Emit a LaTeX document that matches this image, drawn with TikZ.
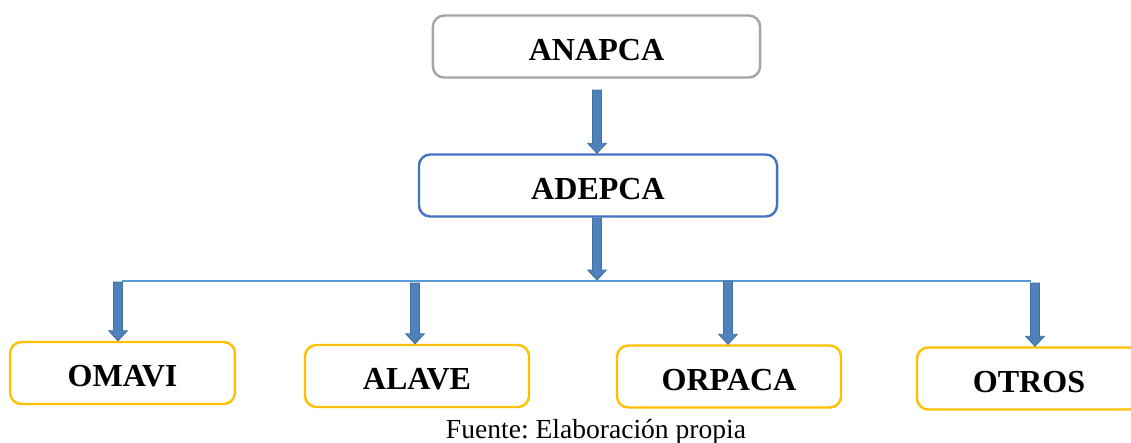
\documentclass[tikz,border=0pt]{standalone}
\usepackage{fontspec}
\setmainfont{Liberation Serif}
\usepackage{tikz}
\usetikzlibrary{calc}
\frenchspacing

\definecolor{boxgray}{RGB}{165,165,165}
\definecolor{boxblue}{RGB}{68,114,196}
\definecolor{boxgold}{RGB}{255,192,0}
\definecolor{barblue}{RGB}{91,155,213}
\definecolor{arrowfill}{RGB}{79,129,189}
\definecolor{arrowedge}{RGB}{65,113,156}

\tikzset{
  orgbox/.style={rounded corners=8pt, line width=1.7pt, fill=white,
    font=\fontsize{22.8}{27}\selectfont\bfseries,
    text height=0.675cm, text depth=0pt,
    minimum height=1.55cm, inner sep=0pt},
  arrowblock/.style={fill=arrowfill, draw=arrowedge, line width=0.6pt},
  barline/.style={draw=barblue, line width=1pt}
}

% vertical block arrow: starts at #1, tip at the height of #2
\newcommand{\blockarrow}[2]{%
  \draw[arrowblock] let \p1=(#1), \p2=(#2) in
    (\x1-3.2pt,\y1) -- (\x1+3.2pt,\y1) -- (\x1+3.2pt,\y2+7.1pt)
    -- (\x1+6.6pt,\y2+7.1pt) -- (\x1,\y2) -- (\x1-6.6pt,\y2+7.1pt)
    -- (\x1-3.2pt,\y2+7.1pt) -- cycle;}

\begin{document}
\begin{tikzpicture}[x=0.025cm, y=-0.025cm]
    \useasboundingbox (0,0) rectangle (1131,442);

    % 1. Top levels
    \node[orgbox, draw=boxgray, minimum width=8.18cm] (anapca) at (596.5,46.5) {ANAPCA};
    \node[orgbox, draw=boxblue, minimum width=8.95cm] (adepca) at (598,185.5) {ADEPCA};

    % 2. Member organisations
    \node[orgbox, draw=boxgold, minimum width=5.62cm] (omavi)  at (122.5,373)  {OMAVI};
    \node[orgbox, draw=boxgold, minimum width=5.6cm]  (alave)  at (417,376)    {ALAVE};
    \node[orgbox, draw=boxgold, minimum width=5.6cm]  (orpaca) at (729,376.5)  {ORPACA};
    \node[orgbox, draw=boxgold, minimum width=5.6cm]  (otros)  at (1029,378.5) {OTROS};

    % 3. Arrows between the levels
    \coordinate (a1) at (597,90);
    \coordinate (a2) at (597,218);
    \coordinate (hub) at (597,280);
    \blockarrow{a1}{adepca.north}
    \blockarrow{a2}{hub}

    % 4. Distribution bar and arrows to each box
    \coordinate (barL) at (122,281);
    \coordinate (barR) at (1031,281);
    \draw[barline] (barL) -- (barR);
    \coordinate (d1) at (118,282);
    \coordinate (d2) at (415,283);
    \coordinate (d3) at (728,281);
    \coordinate (d4) at (1035,283);
    \blockarrow{d1}{omavi.north}
    \blockarrow{d2}{alave.north}
    \blockarrow{d3}{orpaca.north}
    \blockarrow{d4}{otros.north}

    % Source line
    \node[anchor=base, font=\fontsize{19.6}{23}\selectfont] (fuente) at (596,438) {Fuente: Elaboración propia};
\end{tikzpicture}
\end{document}
